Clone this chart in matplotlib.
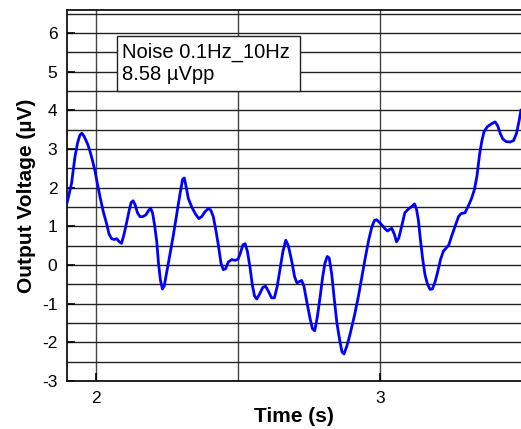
import matplotlib
matplotlib.use("Agg")
import matplotlib.pyplot as plt
from matplotlib.patches import Rectangle
from matplotlib.ticker import MultipleLocator

plt.rcParams['font.family'] = ['Liberation Sans', 'DejaVu Sans']
plt.rcParams['axes.unicode_minus'] = False

time_s = [1.898, 1.906, 1.914, 1.920, 1.926, 1.935, 1.943, 1.950, 1.958, 1.965,
          1.972, 1.979, 1.987, 1.996, 2.005, 2.014, 2.025, 2.038, 2.046, 2.055,
          2.064, 2.073, 2.082, 2.090, 2.099, 2.108, 2.118, 2.124, 2.131, 2.138,
          2.146, 2.155, 2.165, 2.176, 2.186, 2.192, 2.199, 2.206, 2.214, 2.220,
          2.227, 2.234, 2.240, 2.250, 2.261, 2.273, 2.284, 2.296, 2.305, 2.311,
          2.318, 2.325, 2.337, 2.350, 2.362, 2.372, 2.384, 2.395, 2.404, 2.413,
          2.422, 2.431, 2.440, 2.448, 2.456, 2.466, 2.478, 2.490, 2.500, 2.508,
          2.517, 2.525, 2.533, 2.542, 2.550, 2.558, 2.566, 2.576, 2.587, 2.597,
          2.607, 2.618, 2.628, 2.638, 2.648, 2.658, 2.668, 2.677, 2.689, 2.699,
          2.707, 2.716, 2.724, 2.732, 2.742, 2.754, 2.762, 2.770, 2.779, 2.789,
          2.798, 2.806, 2.814, 2.821, 2.830, 2.839, 2.848, 2.858, 2.866, 2.873,
          2.883, 2.894, 2.910, 2.924, 2.936, 2.947, 2.960, 2.971, 2.980, 2.988,
          2.998, 3.008, 3.018, 3.026, 3.034, 3.041, 3.050, 3.058, 3.066, 3.076,
          3.087, 3.100, 3.113, 3.121, 3.128, 3.135, 3.142, 3.150, 3.158, 3.167,
          3.176, 3.184, 3.193, 3.202, 3.213, 3.223, 3.233, 3.242, 3.252, 3.264,
          3.276, 3.285, 3.299, 3.312, 3.322, 3.332, 3.341, 3.350, 3.358, 3.366,
          3.378, 3.392, 3.405, 3.414, 3.423, 3.432, 3.444, 3.458, 3.470, 3.480,
          3.490, 3.496]
voltage_uV = [1.60, 1.85, 2.11, 2.45, 2.80, 3.15, 3.35, 3.41, 3.33, 3.22,
              3.10, 2.94, 2.72, 2.45, 2.10, 1.77, 1.40, 1.05, 0.80, 0.68,
              0.66, 0.68, 0.60, 0.56, 0.80, 1.10, 1.45, 1.62, 1.66, 1.55,
              1.35, 1.25, 1.25, 1.30, 1.42, 1.47, 1.35, 1.05, 0.60, 0.05,
              -0.40, -0.62, -0.55, -0.15, 0.30, 0.80, 1.30, 1.85, 2.22, 2.25,
              2.00, 1.72, 1.50, 1.32, 1.20, 1.25, 1.38, 1.46, 1.42, 1.25,
              0.90, 0.50, 0.05, -0.12, -0.10, 0.08, 0.14, 0.12, 0.15, 0.30,
              0.52, 0.55, 0.35, -0.05, -0.50, -0.80, -0.88, -0.75, -0.58, -0.55,
              -0.68, -0.85, -0.85, -0.55, -0.10, 0.35, 0.64, 0.50, 0.10, -0.30,
              -0.46, -0.43, -0.40, -0.55, -0.95, -1.40, -1.65, -1.70, -1.35, -0.82,
              -0.30, 0.05, 0.22, 0.18, -0.25, -0.90, -1.50, -1.95, -2.25, -2.30,
              -2.10, -1.80, -1.30, -0.80, -0.30, 0.15, 0.65, 0.98, 1.15, 1.17,
              1.10, 1.02, 0.93, 0.88, 0.92, 0.95, 0.80, 0.60, 0.70, 1.00,
              1.35, 1.45, 1.52, 1.58, 1.45, 1.15, 0.65, 0.15, -0.25, -0.50,
              -0.63, -0.62, -0.45, -0.20, 0.15, 0.36, 0.44, 0.52, 0.75, 1.00,
              1.25, 1.33, 1.35, 1.55, 1.72, 1.95, 2.30, 2.85, 3.20, 3.45,
              3.58, 3.65, 3.70, 3.60, 3.40, 3.26, 3.19, 3.18, 3.22, 3.40,
              3.75, 4.01]

x_major = [2, 3]
y_major = [-3, -2, -1, 0, 1, 2, 3, 4, 5, 6]
box_lines = ["Noise 0.1Hz_10Hz", "8.58 \u00b5Vpp"]

fig = plt.figure(figsize=(5.21, 4.29), dpi=100)
ax = fig.add_axes([67/521, 48/429, 454/521, 371/429])

ax.set_xlim(1.898, 3.496)
ax.set_ylim(-3, 6.594)
ax.set_xticks(x_major)
ax.set_yticks(y_major)
ax.xaxis.set_minor_locator(MultipleLocator(0.5))
ax.yaxis.set_minor_locator(MultipleLocator(0.5))
ax.grid(True, which='both', axis='y', color='#222222', lw=1.0)
ax.grid(True, which='both', axis='x', color='#444444', lw=1.0)
ax.set_axisbelow(True)

ax.tick_params(which='major', direction='in', length=6, width=1.2, labelsize=12.5,
               pad=7, top=False, right=False)
ax.tick_params(which='minor', length=0)

for s in ['left', 'bottom', 'top']:
    ax.spines[s].set_linewidth(1.3)
    ax.spines[s].set_color('#111111')
ax.spines['right'].set_visible(False)

ax.plot(time_s, voltage_uV, color='#0000ff', lw=2.0, zorder=3,
        solid_joinstyle='round', solid_capstyle='round')

ax.set_xlabel("Time (s)", fontsize=15, fontweight='bold', labelpad=1)
ax.set_ylabel("Output Voltage (\u00b5V)", fontsize=15, fontweight='bold', labelpad=4)

rect = Rectangle((50/454, (381-91)/371), (300-117)/454, 55/371,
                 transform=ax.transAxes, facecolor='white', edgecolor='#222222',
                 lw=1.0, zorder=4)
ax.add_patch(rect)
ax.text(55/454, (381-52)/371, box_lines[0], transform=ax.transAxes,
        fontsize=14.5, va='center', ha='left', zorder=5)
ax.text(55/454, (381-75)/371, box_lines[1], transform=ax.transAxes,
        fontsize=14.5, va='center', ha='left', zorder=5)

fig.savefig("out.png", dpi=100)
